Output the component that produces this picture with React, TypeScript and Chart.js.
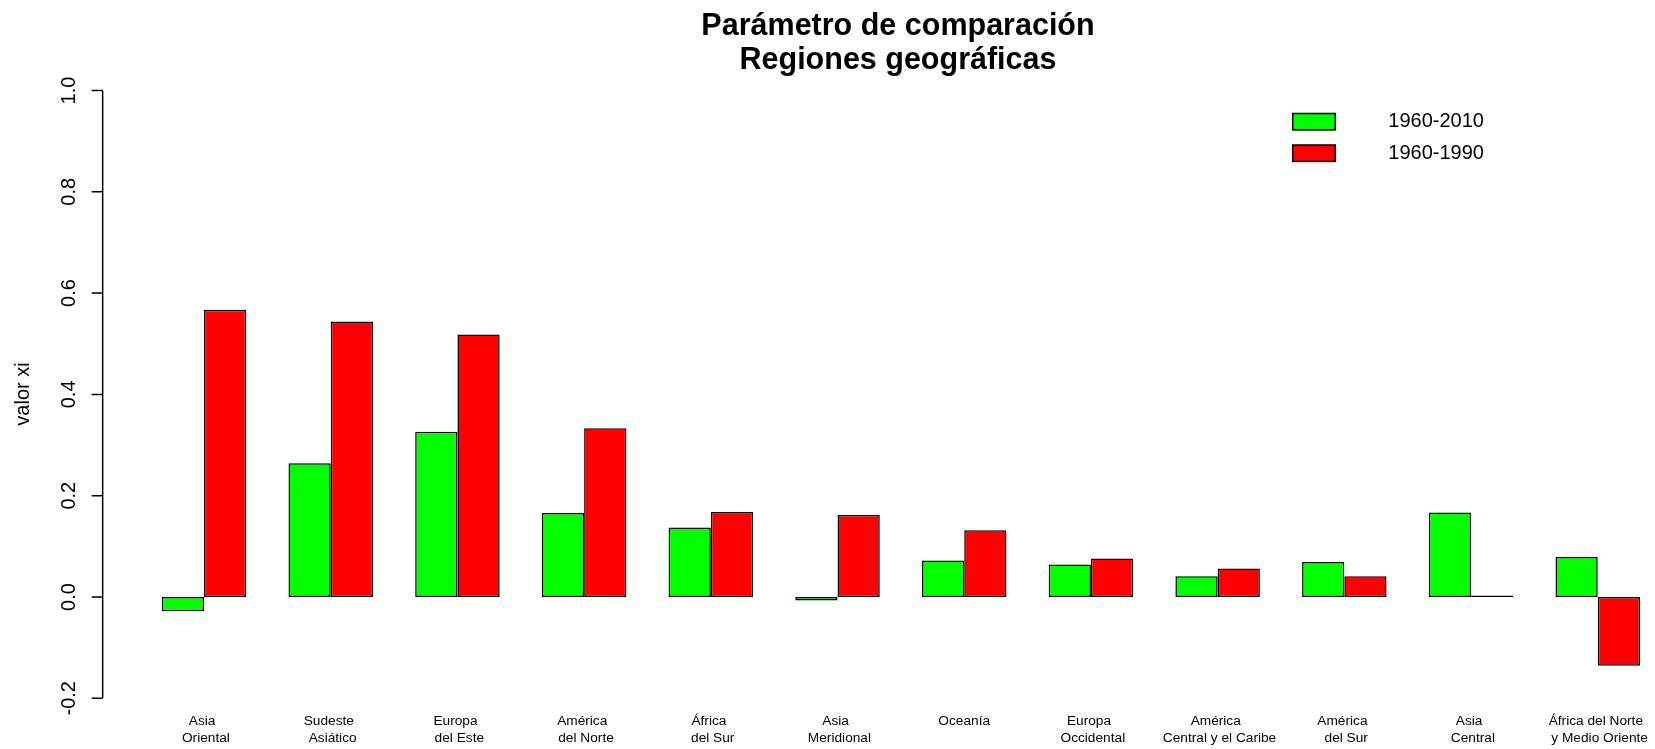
import React, { useEffect, useRef } from "react";
import { Chart, registerables } from "chart.js";

Chart.register(...registerables);

// ---- data ----
const categories: string[][] = [
  ["Asia ", " Oriental"],
  ["Sudeste ", " Asiático"],
  ["Europa ", " del Este"],
  ["América ", " del Norte"],
  ["África ", " del Sur"],
  ["Asia ", " Meridional"],
  ["Oceanía"],
  ["Europa ", " Occidental"],
  ["América ", " Central y el Caribe"],
  ["América ", " del Sur"],
  ["Asia ", " Central"],
  ["África del Norte ", " y Medio Oriente"],
];
const series2010 = [-0.028, 0.264, 0.326, 0.166, 0.137, -0.007, 0.072, 0.064, 0.041, 0.069, 0.167, 0.079];
const series1990 = [0.567, 0.544, 0.518, 0.333, 0.168, 0.162, 0.132, 0.076, 0.056, 0.041, 0.003, -0.136];
const seriesLabels = ["1960-2010", "1960-1990"];
const seriesColors = ["#00FF00", "#FF0000"];
const yTicks = [-0.2, 0.0, 0.2, 0.4, 0.6, 0.8, 1.0];
const yTickLabels = ["-0.2", "0.0", "0.2", "0.4", "0.6", "0.8", "1.0"];
const titleLines = ["Parámetro de comparación", "Regiones geográficas"];
const yTitle = "valor xi";

const FONT = "'Liberation Sans', Arial, Helvetica, sans-serif";

const decorPlugin = {
  id: "rDecor",
  afterDraw(chart: any) {
    const { ctx, chartArea, scales } = chart;
    const xs = scales.x;
    const ys = scales.y;
    ctx.save();

    // y axis line + ticks
    const axisX = chartArea.left;
    ctx.strokeStyle = "#000";
    ctx.lineWidth = 1.5;
    ctx.beginPath();
    ctx.moveTo(axisX, ys.getPixelForValue(yTicks[0]));
    ctx.lineTo(axisX, ys.getPixelForValue(yTicks[yTicks.length - 1]));
    yTicks.forEach((v) => {
      const py = ys.getPixelForValue(v);
      ctx.moveTo(axisX - 11, py);
      ctx.lineTo(axisX, py);
    });
    ctx.stroke();

    // y tick labels (rotated)
    ctx.fillStyle = "#000";
    ctx.font = `20px ${FONT}`;
    ctx.textAlign = "center";
    ctx.textBaseline = "alphabetic";
    yTicks.forEach((v, i) => {
      ctx.save();
      ctx.translate(axisX - 28, ys.getPixelForValue(v));
      ctx.rotate(-Math.PI / 2);
      ctx.fillText(yTickLabels[i], 0, 0);
      ctx.restore();
    });

    // y title
    ctx.save();
    ctx.translate(28.5, 394);
    ctx.rotate(-Math.PI / 2);
    ctx.fillText(yTitle, 0, 0);
    ctx.restore();

    // x category labels
    ctx.font = `13.7px ${FONT}`;
    ctx.textBaseline = "middle";
    categories.forEach((lines, i) => {
      const px = xs.getPixelForValue(i);
      lines.forEach((t, j) => {
        ctx.fillText(t, px, 721 + j * 17);
      });
    });

    // title
    ctx.font = `bold 30.5px ${FONT}`;
    ctx.textBaseline = "alphabetic";
    titleLines.forEach((t, j) => {
      ctx.fillText(t, 898, 35 + j * 34.3);
    });

    // legend
    ctx.font = `20px ${FONT}`;
    ctx.textAlign = "left";
    ctx.textBaseline = "middle";
    ctx.lineWidth = 1.5;
    seriesLabels.forEach((lab, j) => {
      const cy = 121.7 + j * 31.5;
      ctx.fillStyle = seriesColors[j];
      ctx.fillRect(1292.7, cy - 8.2, 42.6, 16.4);
      ctx.strokeStyle = "#000";
      ctx.strokeRect(1292.7, cy - 8.2, 42.6, 16.4);
      ctx.fillStyle = "#000";
      ctx.fillText(lab, 1388.3, cy);
    });

    ctx.restore();
  },
};

export default function App() {
  const canvasRef = useRef<HTMLCanvasElement | null>(null);

  useEffect(() => {
    document.body.style.margin = "0";
    document.body.style.overflow = "hidden";
    const canvas = canvasRef.current;
    if (!canvas) return;
    const series = [series2010, series1990];
    const chart = new Chart(canvas, {
      type: "bar",
      data: {
        datasets: series.map((vals, k) => ({
          label: seriesLabels[k],
          data: vals.map((v, i) => ({ x: i, y: v })),
          backgroundColor: seriesColors[k],
          borderColor: "#000",
          borderWidth: 1.5,
          borderSkipped: false,
          categoryPercentage: 2 / 3,
          barPercentage: 1,
        })),
      },
      options: {
        responsive: false,
        animation: false,
        devicePixelRatio: 1,
        layout: { padding: { left: 102.67, top: 68.3, right: 0, bottom: 26.4 } },
        plugins: {
          legend: { display: false },
          title: { display: false },
          tooltip: { enabled: false },
        },
        scales: {
          x: {
            type: "linear",
            min: -0.8,
            max: 11.452,
            offset: false,
            grid: { offset: false },
            display: false,
            afterBuildTicks: (scale: any) => {
              scale.ticks = categories.map((_, i) => ({ value: i }));
            },
          },
          y: { type: "linear", min: -0.248, max: 1.0438, display: false },
        },
      },
      plugins: [decorPlugin],
    });
    return () => chart.destroy();
  }, []);

  return (
    <div style={{ width: 1655, height: 749 }}>
      <canvas ref={canvasRef} width={1655} height={749} style={{ display: "block", width: 1655, height: 749 }} />
    </div>
  );
}
